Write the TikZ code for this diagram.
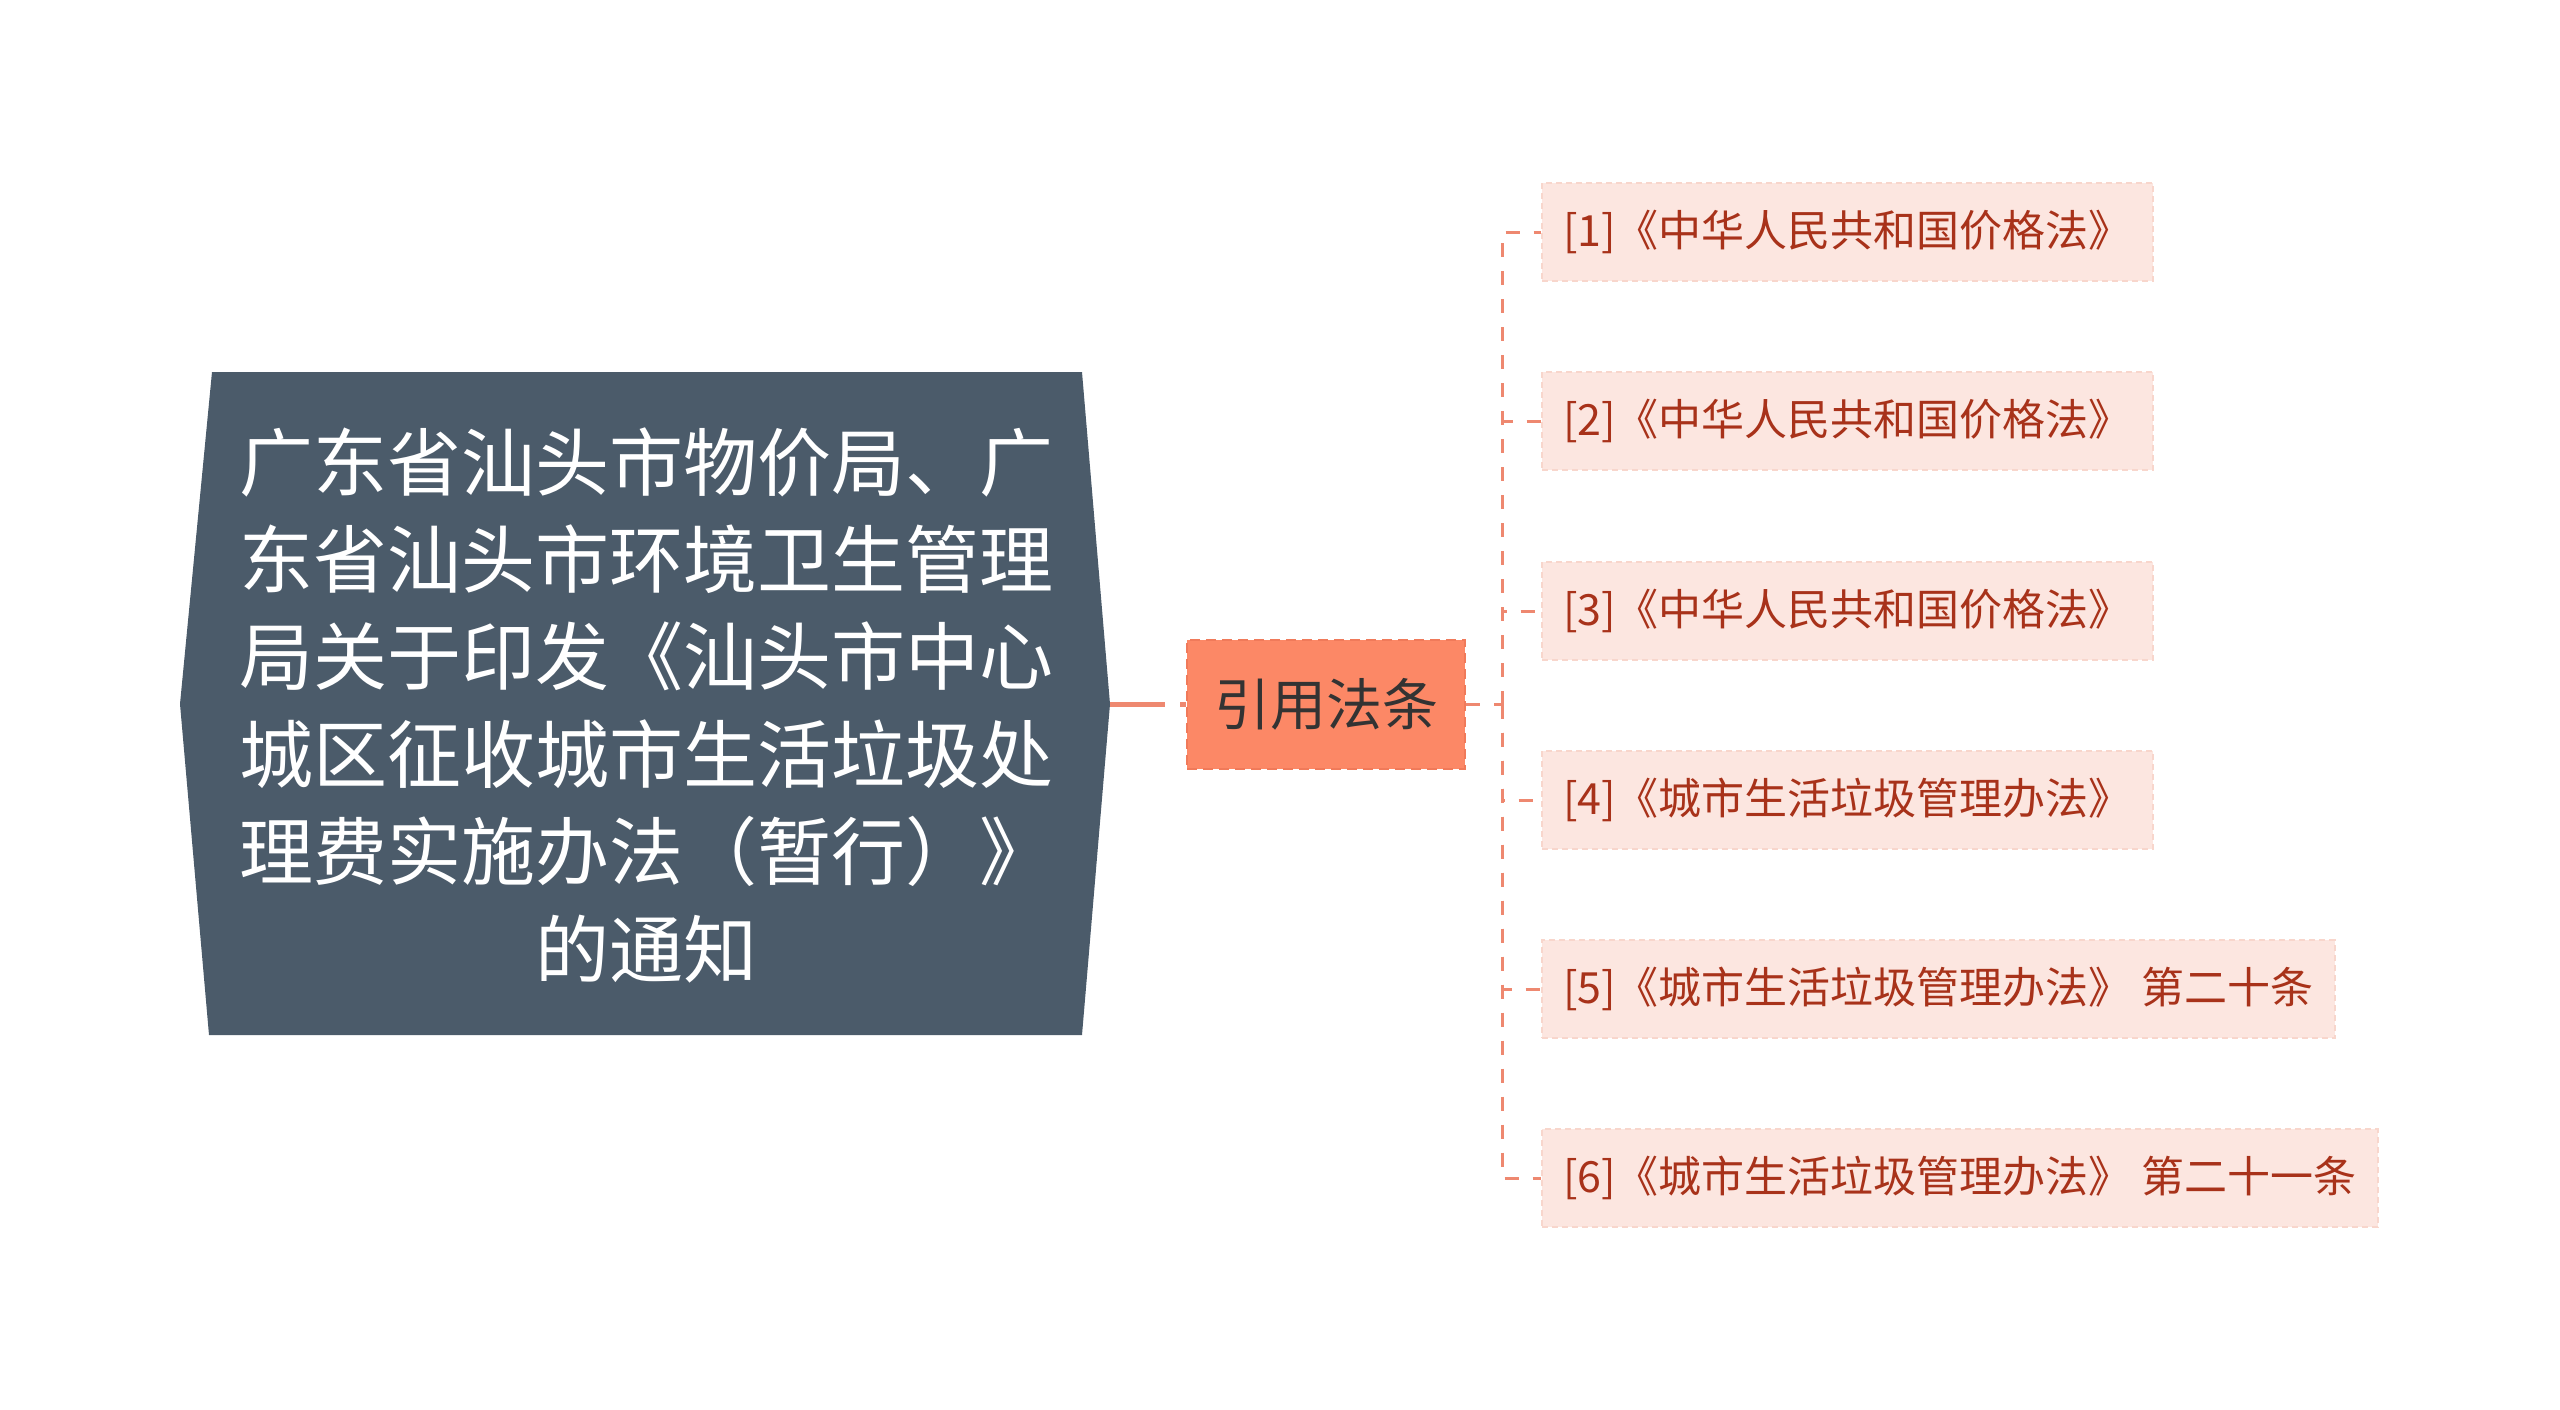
\documentclass[tikz,border=0pt]{standalone}
\usepackage{fontspec}
\setmainfont{Noto Sans CJK SC}
\definecolor{rootc}{HTML}{4B5B6A}
\definecolor{midf}{HTML}{FC8866}
\definecolor{midb}{HTML}{F07A5A}
\definecolor{leaff}{HTML}{FCE6E0}
\definecolor{leafb}{HTML}{F8D6CC}
\definecolor{leaft}{HTML}{A8321A}
\definecolor{connc}{HTML}{EE8870}
\begin{document}
\begin{tikzpicture}[x=0.5pt,y=-0.5pt,
  leaf/.style={draw=leafb, dash pattern=on 3pt off 2pt, line width=1pt, fill=leaff, text=leaft,
    font=\fontsize{21.5pt}{26pt}\selectfont, anchor=west, inner xsep=10.5pt, inner ysep=0pt,
    minimum height=49pt},
  midbox/.style={draw=midb, dash pattern=on 5pt off 3pt, line width=1.2pt, fill=midf, text=black!80,
    font=\fontsize{28pt}{32pt}\selectfont, minimum width=139pt, minimum height=64.5pt, inner sep=0pt},
  conn/.style={draw=connc, line width=1.5pt, dash pattern=on 7pt off 7pt},
  rootconn/.style={draw=connc, line width=2.2pt, dash pattern=on 27.5pt off 7.5pt}]
\useasboundingbox (0,0) rectangle (2560,1409);
% root shape
\fill[rootc] (212,372) -- (1082,372) -- (1110,704) -- (1082,1035) -- (209,1035) -- (180,704) -- cycle;
\coordinate (rootE) at (1110,704.5);
\node[text=white, align=center, font=\fontsize{37pt}{48.7pt}\selectfont] (root) at (646,705)
  {广东省汕头市物价局、广\\东省汕头市环境卫生管理\\局关于印发《汕头市中心\\城区征收城市生活垃圾处\\理费实施办法（暂行）》\\的通知};
\node[midbox] (mid) at (1326,704.5) {引用法条};
\draw[rootconn] (rootE) -- (mid.west);
\coordinate (bus) at (1502,704.5);
\node[leaf] (l1) at (1541,232) {[1]《中华人民共和国价格法》};
\node[leaf] (l2) at (1541,421) {[2]《中华人民共和国价格法》};
\node[leaf] (l3) at (1541,611) {[3]《中华人民共和国价格法》};
\node[leaf] (l4) at (1541,800) {[4]《城市生活垃圾管理办法》};
\node[leaf] (l5) at (1541,989) {[5]《城市生活垃圾管理办法》 第二十条};
\node[leaf] (l6) at (1541,1178) {[6]《城市生活垃圾管理办法》 第二十一条};
\draw[conn] (mid.east) -- (bus);
\foreach \n in {l1,l2,l3,l4,l5,l6} \draw[conn] (bus) |- (\n.west);
\end{tikzpicture}
\end{document}
